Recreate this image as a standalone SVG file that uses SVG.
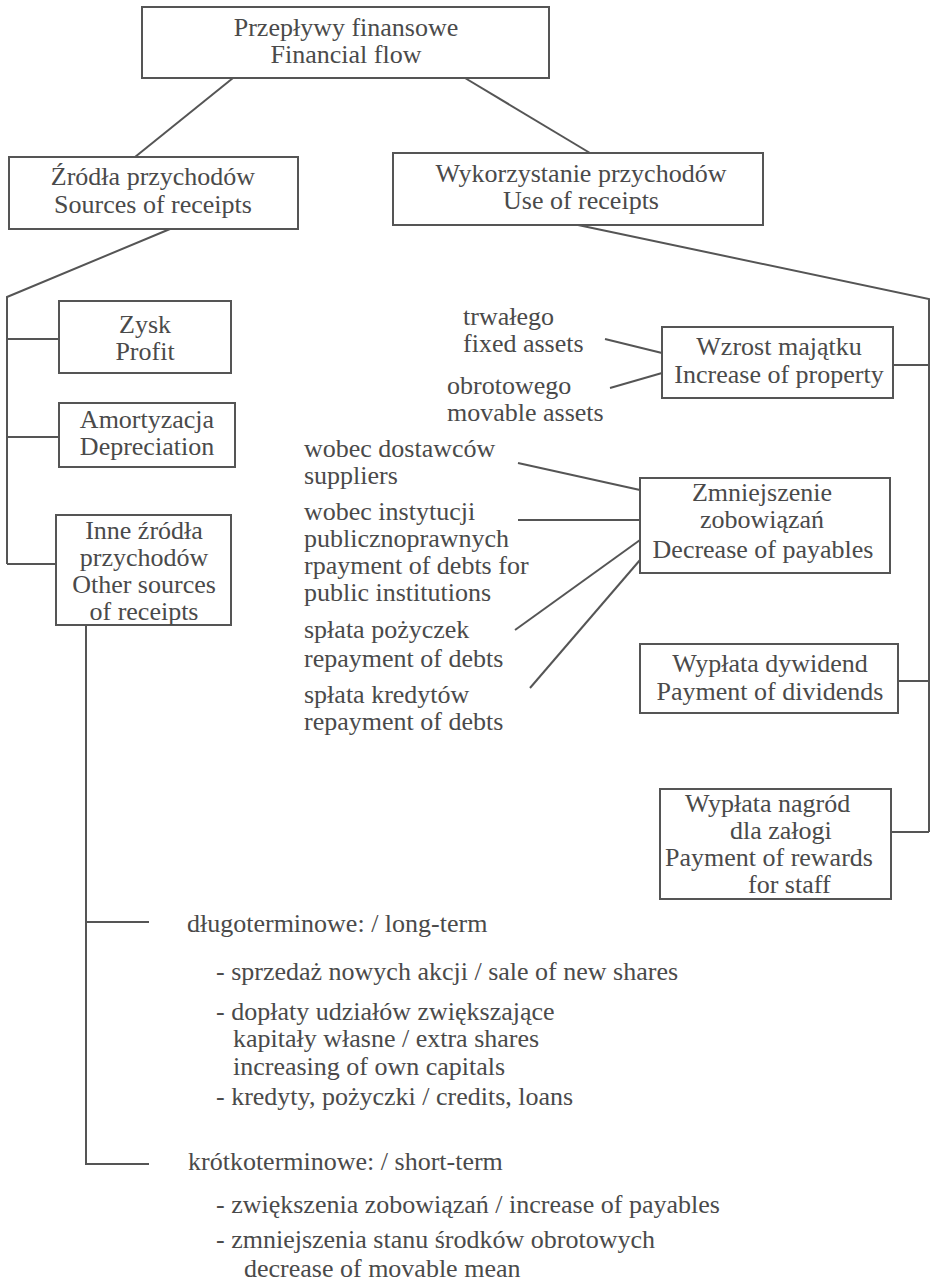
<svg xmlns="http://www.w3.org/2000/svg" width="935" height="1282" viewBox="0 0 935 1282">
<style>
  rect.box { fill: #ffffff; stroke: #555555; stroke-width: 2; }
  .conn line, .conn polyline { stroke: #555555; stroke-width: 2; fill: none; }
  text { font-family: "Liberation Serif", "Times New Roman", serif; font-size: 26px; fill: #4a4a4a; }
  .c { text-anchor: middle; }
</style>
<rect width="935" height="1282" fill="#ffffff"/>

<g class="conn" id="connectors">
  <line x1="233" y1="78" x2="135" y2="157"/>
  <line x1="465" y1="78" x2="590" y2="153"/>
  <polyline points="170,229 7,297 7,564"/>
  <line x1="7" y1="339" x2="59" y2="339"/>
  <line x1="7" y1="437" x2="59" y2="437"/>
  <line x1="7" y1="564" x2="56" y2="564"/>
  <polyline points="578,225 929,299 929,832"/>
  <line x1="893" y1="365" x2="929" y2="365"/>
  <line x1="898" y1="681" x2="929" y2="681"/>
  <line x1="891" y1="832" x2="929" y2="832"/>
  <polyline points="86,625 86,1164 149,1164"/>
  <line x1="86" y1="922" x2="149" y2="922"/>
  <line x1="605" y1="339" x2="662" y2="353"/>
  <line x1="610" y1="388" x2="662" y2="373"/>
  <line x1="518" y1="463" x2="640" y2="490"/>
  <line x1="518" y1="520" x2="640" y2="520"/>
  <line x1="515" y1="630" x2="640" y2="540"/>
  <line x1="530" y1="688" x2="640" y2="560"/>
</g>

<g id="node-financial-flow">
  <rect class="box" x="142" y="7" width="407" height="71"/>
  <text class="c"><tspan x="346" y="36">Przepływy finansowe</tspan><tspan x="346" y="63">Financial flow</tspan></text>
</g>

<g id="node-sources">
  <rect class="box" x="9" y="157" width="289" height="72"/>
  <text class="c"><tspan x="153" y="185">Źródła przychodów</tspan><tspan x="153" y="213">Sources of receipts</tspan></text>
</g>

<g id="node-use">
  <rect class="box" x="393" y="153" width="370" height="72"/>
  <text class="c"><tspan x="581" y="182">Wykorzystanie przychodów</tspan><tspan x="581" y="209">Use of receipts</tspan></text>
</g>

<g id="node-profit">
  <rect class="box" x="59" y="301" width="172" height="72"/>
  <text class="c"><tspan x="145" y="333">Zysk</tspan><tspan x="145" y="360">Profit</tspan></text>
</g>

<g id="node-depreciation">
  <rect class="box" x="59" y="403" width="176" height="64"/>
  <text class="c"><tspan x="147" y="428">Amortyzacja</tspan><tspan x="147" y="455">Depreciation</tspan></text>
</g>

<g id="node-other-sources">
  <rect class="box" x="56" y="515" width="175" height="110"/>
  <text class="c"><tspan x="144" y="539">Inne źródła</tspan><tspan x="144" y="566">przychodów</tspan><tspan x="144" y="593">Other sources</tspan><tspan x="144" y="620">of receipts</tspan></text>
</g>

<g id="node-increase-property">
  <rect class="box" x="662" y="327" width="231" height="71"/>
  <text class="c"><tspan x="779" y="355">Wzrost majątku</tspan><tspan x="779" y="383">Increase of property</tspan></text>
</g>

<g id="node-decrease-payables">
  <rect class="box" x="640" y="478" width="250" height="95"/>
  <text class="c"><tspan x="762" y="501">Zmniejszenie</tspan><tspan x="762" y="528">zobowiązań</tspan><tspan x="763" y="558">Decrease of payables</tspan></text>
</g>

<g id="node-dividends">
  <rect class="box" x="640" y="644" width="258" height="69"/>
  <text class="c"><tspan x="770" y="672">Wypłata dywidend</tspan><tspan x="770" y="700">Payment of dividends</tspan></text>
</g>

<g id="node-rewards">
  <rect class="box" x="660" y="789" width="231" height="110"/>
  <text><tspan x="685" y="812">Wypłata nagród</tspan><tspan x="730" y="839">dla załogi</tspan><tspan x="665" y="866">Payment of rewards</tspan><tspan x="748" y="893">for staff</tspan></text>
</g>

<g id="labels-property">
  <text><tspan x="463" y="325">trwałego</tspan><tspan x="463" y="352">fixed assets</tspan></text>
  <text><tspan x="447" y="394">obrotowego</tspan><tspan x="447" y="421">movable assets</tspan></text>
</g>

<g id="labels-payables">
  <text><tspan x="304" y="457">wobec dostawców</tspan><tspan x="304" y="484">suppliers</tspan></text>
  <text><tspan x="304" y="520">wobec instytucji</tspan><tspan x="304" y="547">publicznoprawnych</tspan><tspan x="304" y="574">rpayment of debts for</tspan><tspan x="304" y="601">public institutions</tspan></text>
  <text><tspan x="304" y="638">spłata pożyczek</tspan><tspan x="304" y="667">repayment of debts</tspan></text>
  <text><tspan x="304" y="703">spłata kredytów</tspan><tspan x="304" y="730">repayment of debts</tspan></text>
</g>

<g id="labels-other-sources">
  <text x="187" y="932">długoterminowe: / long-term</text>
  <text x="216" y="980">- sprzedaż nowych akcji / sale of new shares</text>
  <text><tspan x="216" y="1020">- dopłaty udziałów zwiększające</tspan><tspan x="233" y="1047">kapitały własne / extra shares</tspan><tspan x="233" y="1075">increasing of own capitals</tspan></text>
  <text x="216" y="1105">- kredyty, pożyczki / credits, loans</text>
  <text x="188" y="1170">krótkoterminowe: / short-term</text>
  <text x="216" y="1213">- zwiększenia zobowiązań / increase of payables</text>
  <text><tspan x="216" y="1248">- zmniejszenia stanu środków obrotowych</tspan><tspan x="244" y="1277">decrease of movable mean</tspan></text>
</g>
</svg>
